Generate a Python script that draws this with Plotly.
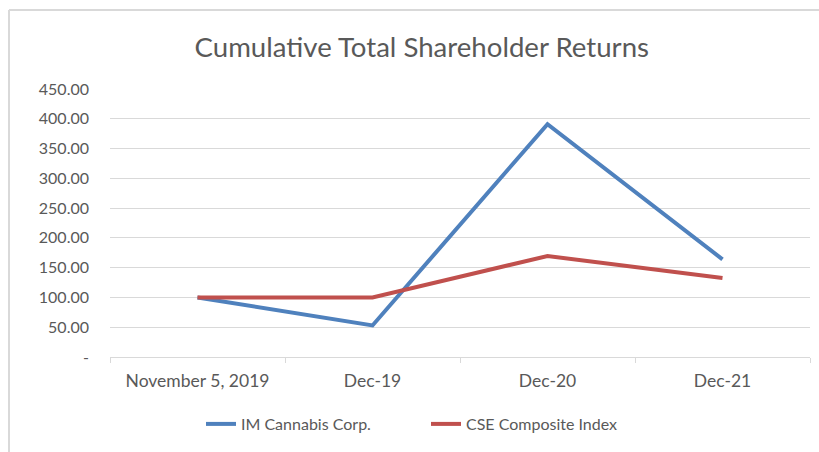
import plotly.graph_objects as go

categories = ["November 5, 2019", "Dec-19", "Dec-20", "Dec-21"]
im_cannabis = [100.0, 53.0, 391.0, 164.0]
cse_index = [100.0, 100.0, 169.5, 132.5]
y_tickvals = [0, 50, 100, 150, 200, 250, 300, 350, 400, 450]
y_ticktext = ["-", "50.00", "100.00", "150.00", "200.00", "250.00", "300.00", "350.00", "400.00", "450.00"]

FONT = "Lato, Open Sans, sans-serif"
GRAY = "#595959"

fig = go.Figure()
fig.add_trace(go.Scatter(x=categories, y=im_cannabis, mode="lines", name="IM Cannabis Corp.",
                         line=dict(color="#4F81BD", width=4)))
fig.add_trace(go.Scatter(x=categories, y=cse_index, mode="lines", name="CSE Composite Index",
                         line=dict(color="#C0504D", width=4)))

fig.update_layout(
    width=819, height=452,
    margin=dict(l=110, r=9, t=89, b=95, autoexpand=False),
    paper_bgcolor="white", plot_bgcolor="white",
    font=dict(family=FONT, color=GRAY, size=16),
    title=dict(text="Cumulative Total Shareholder Returns", x=0.515, xref="container", xanchor="center",
               y=1 - 47 / 452, yref="container", yanchor="middle",
               font=dict(family=FONT, size=27.6, color=GRAY)),
    showlegend=True,
    legend=dict(orientation="h", x=(201 - 110) / 700, xanchor="left", y=-0.25, yanchor="middle",
                font=dict(family=FONT, size=16, color=GRAY), itemwidth=30,
                entrywidth=180, entrywidthmode="pixels"),
    xaxis=dict(type="category", showgrid=False, showline=True, linecolor="#d9d9d9", linewidth=1,
               ticks="outside", tickson="boundaries", ticklen=5, tickcolor="#d9d9d9",
               automargin=False, ticklabelstandoff=8,
               tickfont=dict(family=FONT, size=17.5, color=GRAY), range=[-0.5, 3.5]),
    yaxis=dict(range=[0, 450], tickvals=y_tickvals, ticktext=y_ticktext, showgrid=True,
               gridcolor="#d9d9d9", gridwidth=1, zeroline=False, showline=False,
               ticks="", ticklabelstandoff=20, automargin=False,
               tickfont=dict(family=FONT, size=16, color=GRAY)),
    shapes=[
        dict(type="line", xref="paper", yref="paper", x0=(9 - 110) / 700, x1=(819 - 110) / 700,
             y0=(357 - 10) / 268, y1=(357 - 10) / 268, line=dict(color="#d9d9d9", width=2)),
        dict(type="line", xref="paper", yref="paper", x0=(9 - 110) / 700, x1=(9 - 110) / 700,
             y0=(357 - 10) / 268, y1=(357 - 452) / 268, line=dict(color="#d9d9d9", width=2)),
    ],
)

fig.write_html("out.html", config={"displayModeBar": False},
               post_script="document.body.style.margin='0';")
